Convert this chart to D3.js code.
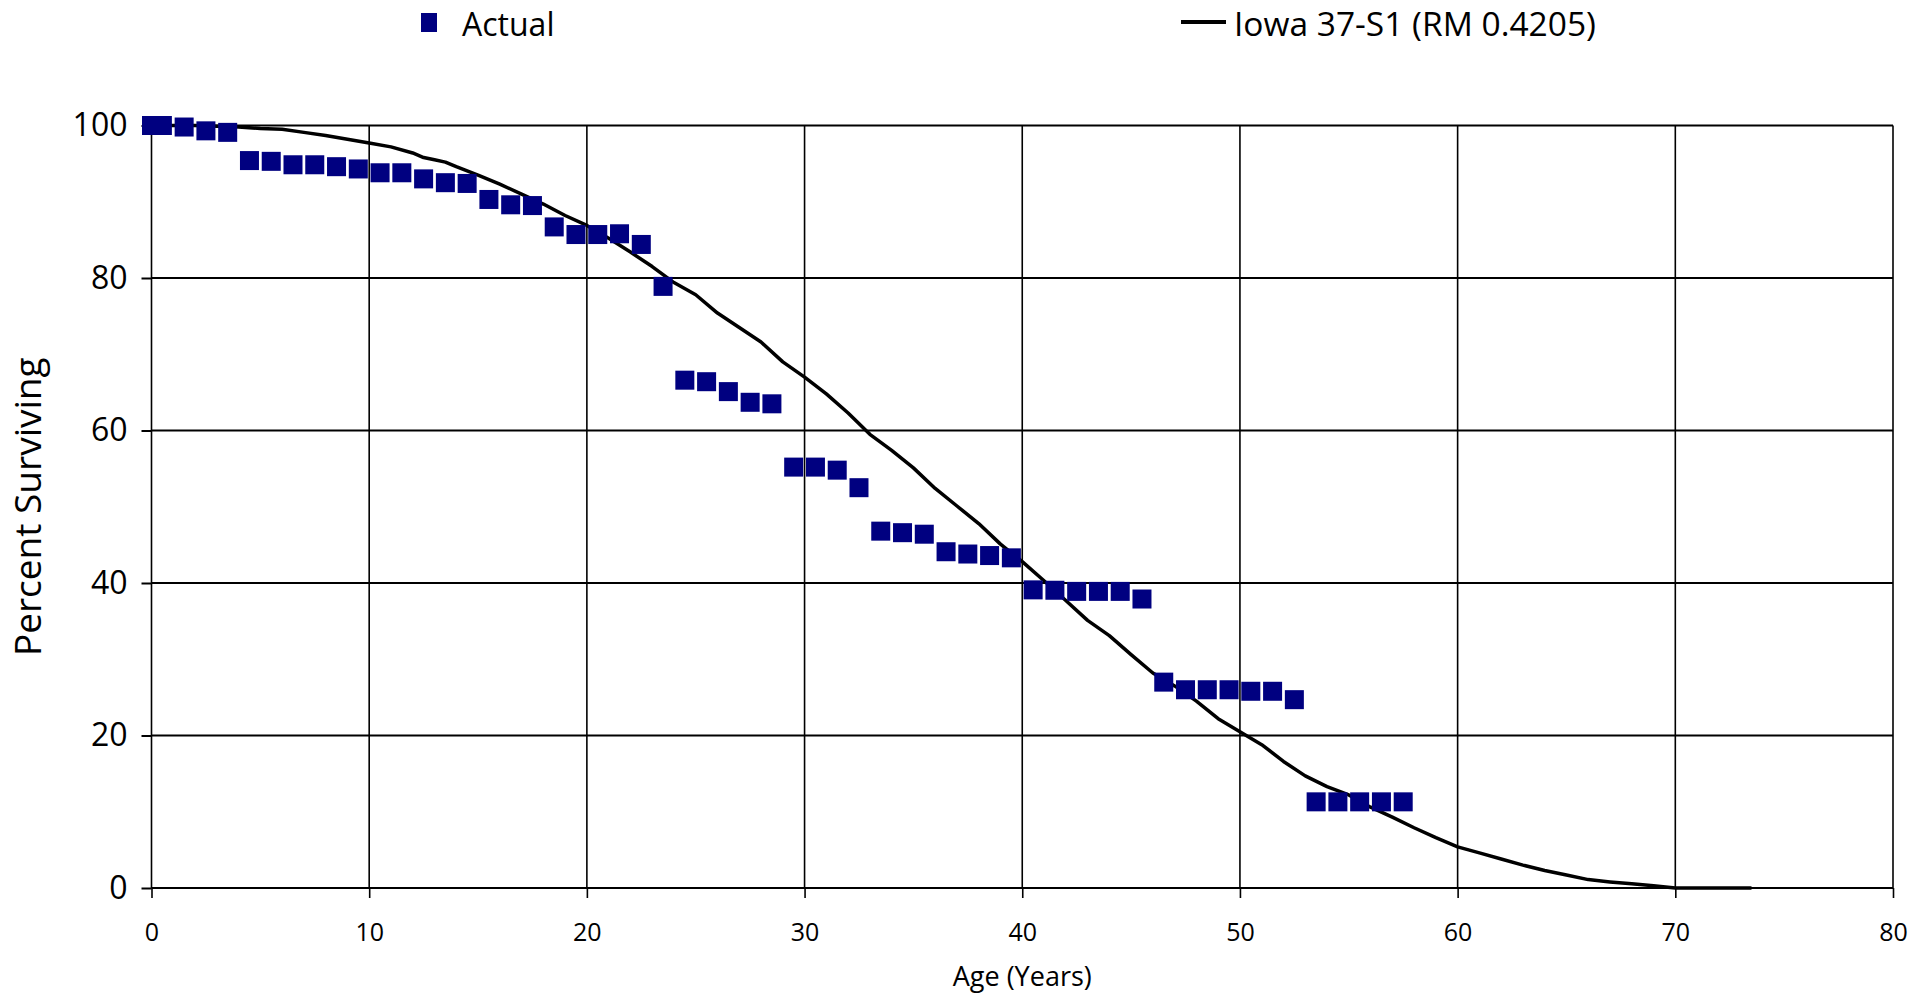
<!DOCTYPE html>
<html>
<head>
<meta charset="utf-8">
<script src="https://cdn.jsdelivr.net/npm/d3@7/dist/d3.min.js"></script>
<style>
  html, body { margin: 0; padding: 0; background: #fff; }
  svg { display: block; font-family: "Open Sans", sans-serif; }
</style>
</head>
<body>
<svg id="chart" width="1931" height="995"></svg>
<script>
// ---- Data ----
const actualAges = [0, 0.5, 1.5, 2.5, 3.5, 4.5, 5.5, 6.5, 7.5, 8.5, 9.5, 10.5, 11.5, 12.5, 13.5, 14.5,
  15.5, 16.5, 17.5, 18.5, 19.5, 20.5, 21.5, 22.5, 23.5, 24.5, 25.5, 26.5, 27.5, 28.5, 29.5,
  30.5, 31.5, 32.5, 33.5, 34.5, 35.5, 36.5, 37.5, 38.5, 39.5, 40.5, 41.5, 42.5, 43.5, 44.5,
  45.5, 46.5, 47.5, 48.5, 49.5, 50.5, 51.5, 52.5, 53.5, 54.5, 55.5, 56.5, 57.5];
const actualValues = [100, 100, 99.8, 99.3, 99.1, 95.4, 95.3, 94.85, 94.85, 94.6, 94.3, 93.8, 93.8, 93.0, 92.5, 92.4,
  90.3, 89.6, 89.5, 86.7, 85.7, 85.7, 85.8, 84.4, 78.9, 66.6, 66.4, 65.1, 63.7, 63.5, 55.2,
  55.2, 54.8, 52.5, 46.8, 46.6, 46.4, 44.1, 43.8, 43.6, 43.3, 39.1, 39.05, 38.9, 38.9, 38.9,
  37.9, 27.0, 26.0, 26.0, 26.0, 25.8, 25.8, 24.7, 11.3, 11.3, 11.3, 11.3, 11.3];

const iowaAges = [0, 1, 2, 3, 4, 5, 6, 7, 8, 9, 10, 11, 12, 12.5, 13, 13.5, 14, 15, 16, 17, 18, 19,
  20, 21, 22, 23, 24, 25, 26, 27, 28, 29, 30, 31, 32, 33, 34, 35, 36, 37, 38, 39,
  40, 41, 42, 43, 44, 45, 46, 47, 48, 49, 50, 51, 52, 53, 54, 55, 56, 57, 58, 59,
  60, 61, 62, 63, 64, 65, 66, 67, 68, 69, 70, 71, 72, 73, 73.5];
const iowaValues = [100, 100, 100, 99.9, 99.8, 99.6, 99.5, 99.1, 98.7, 98.2, 97.7, 97.2, 96.4, 95.8, 95.5, 95.2, 94.6, 93.5, 92.3, 91.0, 89.7, 88.2,
  86.9, 85.2, 83.4, 81.5, 79.4, 77.8, 75.4, 73.5, 71.6, 69.0, 67.0, 64.8, 62.3, 59.5, 57.4, 55.1, 52.4, 50.1, 47.8, 45.1,
  42.8, 40.3, 37.7, 35.1, 33.1, 30.6, 28.2, 26.5, 24.5, 22.2, 20.5, 18.8, 16.6, 14.7, 13.3, 12.2, 10.6, 9.3, 7.9, 6.6,
  5.4, 4.6, 3.8, 3.0, 2.3, 1.7, 1.1, 0.8, 0.55, 0.3, 0.0, 0, 0, 0, 0];

const xTicks = [0, 10, 20, 30, 40, 50, 60, 70, 80];
const yTicks = [0, 20, 40, 60, 80, 100];
const seriesNames = ["Actual", "Iowa 37-S1 (RM 0.4205)"];
const xTitle = "Age (Years)";
const yTitle = "Percent Surviving";

// ---- Layout ----
const svg = d3.select("#chart");
const x = d3.scaleLinear().domain([0, 80]).range([151.5, 1893]);
const y = d3.scaleLinear().domain([0, 100]).range([888, 125.5]);

// gridlines
svg.append("g").selectAll("line.h").data(yTicks).join("line")
  .attr("x1", x(0)).attr("x2", x(80))
  .attr("y1", d => y(d)).attr("y2", d => y(d))
  .attr("stroke", "#000").attr("stroke-width", 2);
svg.append("g").selectAll("line.v").data(xTicks).join("line")
  .attr("x1", d => x(d)).attr("x2", d => x(d))
  .attr("y1", y(100)).attr("y2", y(0))
  .attr("stroke", "#000").attr("stroke-width", 1.6);

// axes
const xAxis = svg.append("g").attr("transform", `translate(0,${y(0)})`)
  .call(d3.axisBottom(x).tickValues(xTicks).tickSize(10).tickPadding(25).tickFormat(d3.format("d")));
xAxis.select(".domain").remove();
xAxis.selectAll(".tick line").attr("stroke", "#000").attr("stroke-width", 1.6);
xAxis.selectAll(".tick text").attr("font-size", 25).attr("fill", "#000")
  .attr("font-family", "Open Sans, sans-serif");

const yAxis = svg.append("g").attr("transform", `translate(${x(0)},0)`)
  .call(d3.axisLeft(y).tickValues(yTicks).tickSize(10).tickPadding(14).tickFormat(d3.format("d")));
yAxis.select(".domain").remove();
yAxis.selectAll(".tick line").attr("stroke", "#000").attr("stroke-width", 2);
yAxis.selectAll(".tick text").attr("font-size", 32).attr("fill", "#000")
  .attr("font-family", "Open Sans, sans-serif");

// titles
svg.append("text").text(xTitle)
  .attr("x", (x(0) + x(80)) / 2).attr("y", 986)
  .attr("text-anchor", "middle").attr("font-size", 27).attr("fill", "#000");
svg.append("text").text(yTitle)
  .attr("transform", `translate(41,${(y(0) + y(100)) / 2}) rotate(-90)`)
  .attr("text-anchor", "middle").attr("font-size", 37).attr("fill", "#000");

// Iowa curve
const line = d3.line().x(d => x(d[0])).y(d => y(d[1]));
svg.append("path")
  .datum(iowaAges.map((a, i) => [a, iowaValues[i]]))
  .attr("d", line).attr("fill", "none").attr("stroke", "#000")
  .attr("stroke-width", 3.5).attr("stroke-linejoin", "round");

// Actual markers
const ms = 19;
svg.append("g").selectAll("rect").data(actualAges.map((a, i) => [a, actualValues[i]])).join("rect")
  .attr("x", d => x(d[0]) - ms / 2).attr("y", d => y(d[1]) - ms / 2)
  .attr("width", ms).attr("height", ms).attr("fill", "#000080");

// legend
const leg = svg.append("g");
leg.append("rect").attr("x", 421).attr("y", 13).attr("width", 16).attr("height", 19).attr("fill", "#000080");
leg.append("text").text(seriesNames[0]).attr("x", 462).attr("y", 36)
  .attr("font-size", 32).attr("fill", "#000");
leg.append("line").attr("x1", 1181).attr("x2", 1226).attr("y1", 22).attr("y2", 22)
  .attr("stroke", "#000").attr("stroke-width", 4);
leg.append("text").text(seriesNames[1]).attr("x", 1234).attr("y", 36)
  .attr("font-size", 33.5).attr("fill", "#000");
</script>
</body>
</html>
